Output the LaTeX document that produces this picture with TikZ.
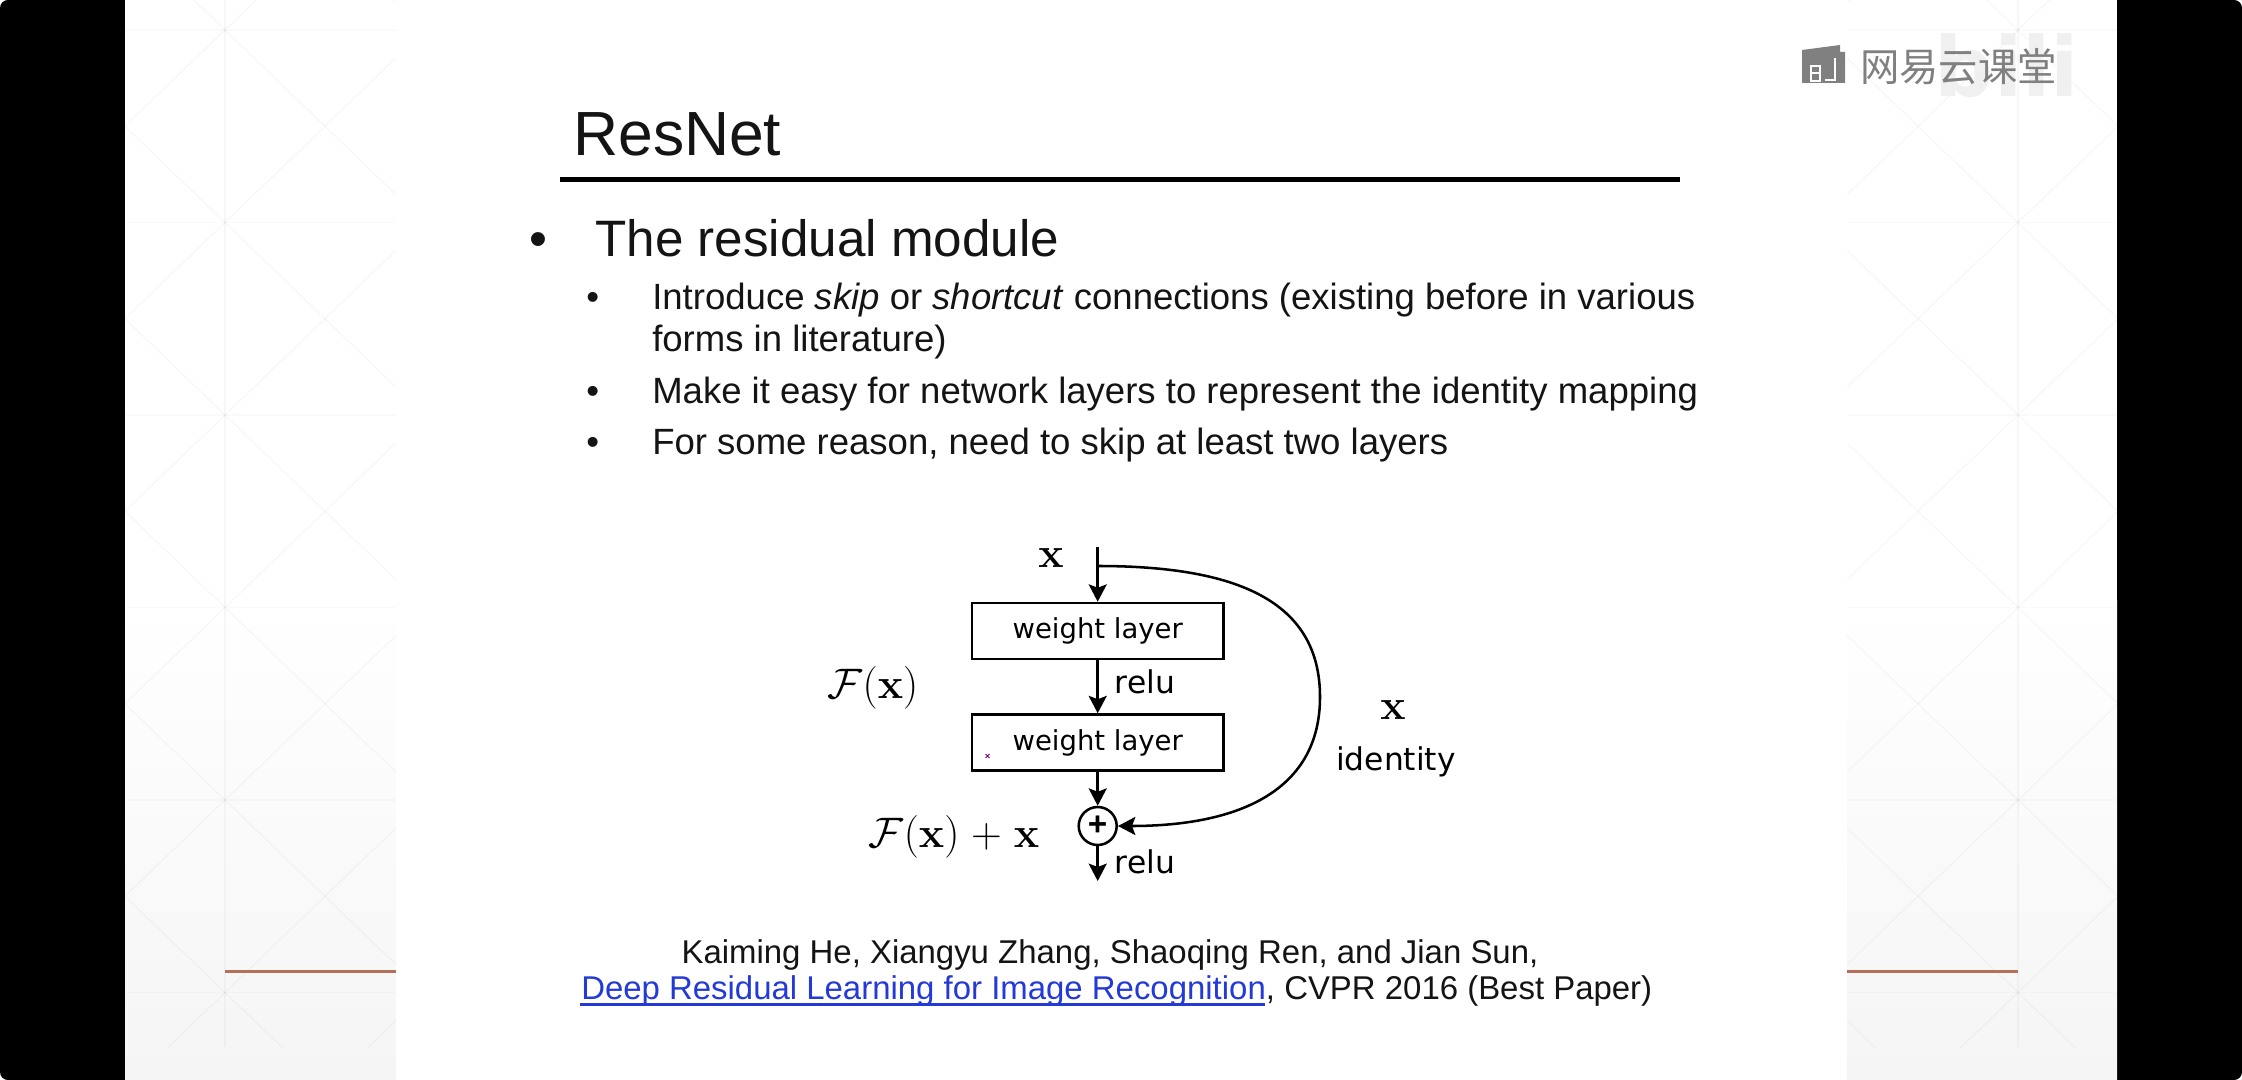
\documentclass[tikz,border=0pt]{standalone}
\usepackage{fix-cm}
\usepackage[no-math]{fontspec}
\setmainfont{Liberation Sans}
\newfontfamily\diagfont{DejaVu Sans}
\newfontfamily\cjkfont{Noto Sans CJK SC}
\usetikzlibrary{arrows.meta}

\definecolor{panelgray}{RGB}{245,245,245}
\definecolor{rulered}{RGB}{181,112,90}
\definecolor{linkblue}{RGB}{36,58,214}
\definecolor{markgray}{RGB}{128,128,128}

\tikzset{every picture/.style={line width=1.9pt}}
\tikzset{
  slidetext/.style={inner sep=0pt,text=black!92},
  titletext/.style={slidetext,font=\fontsize{46.8}{56}\selectfont},
  maintext/.style={slidetext,font=\fontsize{38.4}{46}\selectfont},
  subtext/.style={slidetext,font=\fontsize{27.4}{33}\selectfont},
  citetext/.style={slidetext,font=\fontsize{24.7}{30}\selectfont},
  layerbox/.style={draw,minimum width=188.6pt,minimum height=42pt,inner sep=0pt,font=\diagfont\fontsize{20.6}{25}\selectfont},
  difflabel/.style={inner sep=0pt,font=\diagfont\fontsize{23.5}{28}\selectfont},
  mathlabel/.style={inner sep=0pt,font=\fontsize{32}{38}\selectfont},
  flow/.style={-{Stealth[length=13pt,width=13.5pt,inset=2.5pt]}},
  gridline/.style={black,opacity=0.03,line width=0.9pt},
}

\begin{document}
\begin{tikzpicture}[x=0.75pt,y=0.75pt,yscale=-1,xscale=1]
\useasboundingbox (0,0) rectangle (2242,1080);

%Shape: page and side panels
\fill [white] (0,0) rectangle (2242,1080);
\fill [black] [rounded corners=6pt] (0,0) rectangle (2242,1080);
\fill [white] (125,0) rectangle (2117,600);
\shade [top color=white,bottom color=panelgray] (125,600) rectangle (2117,1080);

%Shape: faint pattern of the side panels
\foreach \vx/\xa/\xb in {225/125/396,2018/1847/2117}{
  \begin{scope}
    \clip (\xa,0) rectangle (\xb,1047);
    \foreach \k in {-1,...,6}{
      \draw [gridline] (\vx-200,30+192.5*\k-192.5) -- (\vx+200,30+192.5*\k+192.5);
      \draw [gridline] (\vx-200,30+192.5*\k+192.5) -- (\vx+200,30+192.5*\k-192.5);
      \draw [gridline,opacity=0.02] (\xa,30+192.5*\k) -- (\xb,30+192.5*\k);
    }
    \draw [gridline,line width=1.6pt] (\vx,0) -- (\vx,1047);
  \end{scope}
}

%Shape: white slide
\fill [white] (396,0) rectangle (1847,1080);

%Shape: red rules
\draw [rulered,line width=1.6pt] (225,971.5) -- (396,971.5);
\draw [rulered,line width=1.6pt] (1847,971.5) -- (2018,971.5);

%Shape: watermark
\draw (2007,66) node [anchor=center][inner sep=0pt,text=black!6,font=\diagfont\bfseries\fontsize{62}{70}\selectfont] (biliname) {bili};
\fill [markgray] (1802,50) -- (1840,45) -- (1840,52) -- (1845,52) -- (1845,83) -- (1802,83) -- cycle;
\draw [white,line width=1.5pt] (1811,66) -- (1811,81) -- (1820,81) -- (1820,66) -- cycle (1811,73) -- (1820,73);
\draw [white,line width=1.5pt] (1835,58) -- (1835,80) -- (1825,80);
\draw (1859,67) node [anchor=west][inner sep=0pt,text=markgray,font=\cjkfont\fontsize{29.5}{34}\selectfont] (logotext) {网易云课堂};

% Text Node
\draw (572,156) node [anchor=base west][titletext] (title) {ResNet};
%Shape: title rule
\draw [line width=3.6pt] (560,179.5) -- (1680,179.5);

% Text Node
\draw (528,257) node [anchor=base west][maintext] (bulletmain) {•};
\draw (594,257) node [anchor=base west][maintext] (mainline) {The residual module};
% Text Node
\draw (585,309.5) node [anchor=base west][subtext] (bulletone) {•};
\draw (651,309.5) node [anchor=base west][subtext] (lineone) {Introduce \textit{skip} or \textit{shortcut} connections (existing before in various};
\draw (651,351.5) node [anchor=base west][subtext] (linetwo) {forms in literature)};
\draw (585,403.5) node [anchor=base west][subtext] (bullettwo) {•};
\draw (651,403.5) node [anchor=base west][subtext] (linethree) {Make it easy for network layers to represent the identity mapping};
\draw (585,454.5) node [anchor=base west][subtext] (bulletthree) {•};
\draw (651,454.5) node [anchor=base west][subtext] (linefour) {For some reason, need to skip at least two layers};

%Shape: residual block
\draw (1097.7,631) node [layerbox] (layerone) {\raisebox{-1pt}{weight layer}};
\draw (1097.7,742.5) node [layerbox] (layertwo) {\raisebox{-1pt}{weight layer}};
\draw (1097.7,826) node [circle,draw,minimum size=28.5pt,inner sep=0pt,font=\bfseries\fontsize{25}{28}\selectfont] (plusnode) {+};
\coordinate (xin) at (1097.7,547);
\coordinate (skip) at (1097.7,566);
\coordinate (xout) at (1097.7,881);

\draw [flow] (xin) -- (layerone);
\draw [flow] (layerone) -- (layertwo);
\draw [flow] (layertwo) -- (plusnode);
\draw [flow] (plusnode) -- (xout);
\draw [flow] (skip) .. controls (1235,566) and (1320,600) .. (1320,697) .. controls (1320,790) and (1240,826) .. (plusnode.east);

%Shape: small mark in the second box
\draw [violet,line width=0.6pt] (985.5,754) -- (989.5,758) (989.5,754) -- (985.5,758);

% Text Node
\draw (1051,558) node [mathlabel] (xtop) {$\mathbf{x}$};
\draw (873,688) node [mathlabel] (fx) {$\mathcal{F}(\mathbf{x})$};
\draw (954,837) node [mathlabel] (fxplus) {$\mathcal{F}(\mathbf{x})\mkern1mu+\mkern1mu\mathbf{x}$};
\draw (1393,710) node [mathlabel] (xright) {$\mathbf{x}$};
\draw (1145,682) node [difflabel] (reluone) {relu};
\draw (1145,862) node [difflabel] (relutwo) {relu};
\draw (1396,762) node [difflabel] (identitylabel) {identity};

% Text Node
\draw (1110,963) node [anchor=base][citetext] (authors) {Kaiming He, Xiangyu Zhang, Shaoqing Ren, and Jian Sun,};
\draw (580,999) node [anchor=base west][citetext] (paper) {\textcolor{linkblue}{Deep Residual Learning for Image Recognition}, CVPR 2016 (Best Paper)};
\draw [linkblue,line width=1.8pt] (580,1004.5) -- (1265,1004.5);

\end{tikzpicture}
\end{document}
